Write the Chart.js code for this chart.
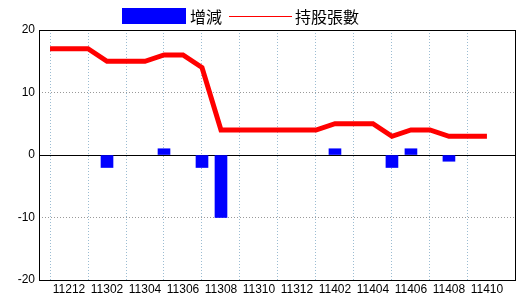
<!DOCTYPE html>
<html>
<head>
<meta charset="utf-8">
<script src="https://cdn.jsdelivr.net/npm/chart.js@4/dist/chart.umd.min.js"></script>
<style>
  body { margin: 0; background: #fff; }
  #wrap { position: relative; width: 520px; height: 300px; }
  #legend { position: absolute; top: 8px; left: 122px; display: flex; align-items: center; height: 16px;
            font-family: "Noto Sans CJK TC", sans-serif; font-size: 16px; line-height: 16px; color: #000; }
  #legend .box { width: 64px; height: 16px; background: #0000ff; margin-right: 4px; }
  #legend .line { width: 63px; height: 1px; background: #ff0000; margin: 0 3px 0 7px; }
</style>
</head>
<body>
<div id="wrap">
  <div id="legend">
    <span class="box"></span><span id="lg0"></span>
    <span class="line"></span><span id="lg1"></span>
  </div>
  <canvas id="chart" width="520" height="300"></canvas>
</div>
<script>
const months = ['11211', '11212', '11301', '11302', '11303', '11304', '11305', '11306',
  '11307', '11308', '11309', '11310', '11311', '11312', '11401', '11402',
  '11403', '11404', '11405', '11406', '11407', '11408', '11409', '11410']
const changes = [0, 0, 0, -2, 0, 0, 1, 0, -2, -10, 0, 0, 0, 0, 0, 1, 0, 0, -2, 1, 0, -1, 0, 0]
const holdings = [17, 17, 17, 15, 15, 15, 16, 16, 14, 4, 4, 4, 4, 4, 4, 5, 5, 5, 3, 4, 4, 3, 3, 3]
const yTicks = [20, 10, 0, -10, -20]
const seriesNames = ['增減', '持股張數']

document.getElementById('lg0').textContent = seriesNames[0]
document.getElementById('lg1').textContent = seriesNames[1]

// frame around the plot and the solid zero line
const framePlugin = {
  id: 'frame',
  beforeDatasetsDraw(chart) {
    const { ctx, chartArea: a, scales } = chart
    const y0 = Math.round(scales.y.getPixelForValue(0)) + 0.5
    ctx.save()
    ctx.strokeStyle = '#000'
    ctx.lineWidth = 1
    ctx.beginPath()
    ctx.moveTo(a.left, y0)
    ctx.lineTo(a.right, y0)
    ctx.stroke()
    ctx.strokeRect(Math.round(a.left) + 0.5, Math.round(a.top) + 0.5,
      Math.round(a.right - a.left) - 1, Math.round(a.bottom - a.top))
    ctx.restore()
  }
}

const tickFont = { family: '"Liberation Sans", sans-serif', size: 12 }

new Chart(document.getElementById('chart'), {
  data: {
    datasets: [
      {
        type: 'line',
        label: seriesNames[1],
        data: holdings.map((v, i) => ({ x: i, y: v })),
        borderColor: '#ff0000',
        borderWidth: 5,
        pointRadius: 0,
        tension: 0,
        order: 0
      },
      {
        type: 'bar',
        label: seriesNames[0],
        // months with no change get no bar at all
        data: changes.map((v, i) => ({ x: i, y: v === 0 ? null : v })),
        backgroundColor: '#0000ff',
        barThickness: 12,
        order: 1
      }
    ]
  },
  options: {
    responsive: false,
    animation: false,
    layout: { padding: { top: 30, right: 4, left: 0, bottom: 0 } },
    plugins: { legend: { display: false }, tooltip: { enabled: false } },
    scales: {
      x: {
        type: 'linear',
        offset: false,
        min: -0.58,
        max: 24.53,
        afterBuildTicks: axis => { axis.ticks = months.map((m, i) => ({ value: i })) },
        afterFit: axis => { axis.height = 20 },
        ticks: {
          autoSkip: false,
          maxRotation: 0,
          padding: 2,
          color: '#000',
          font: tickFont,
          callback: v => (v % 2 === 1 ? months[v] : '')
        },
        grid: {
          drawTicks: false,
          offset: false,
          color: c => (c.tick && c.tick.value % 2 === 0 ? '#9bbcd2' : 'rgba(0,0,0,0)'),
          lineWidth: 1
        },
        border: { display: false, dash: [1, 2] }
      },
      y: {
        min: -20,
        max: 20,
        afterBuildTicks: axis => { axis.ticks = yTicks.map(v => ({ value: v })) },
        afterFit: axis => { axis.width = 39 },
        ticks: { padding: 4, color: '#000', font: tickFont },
        grid: { drawTicks: false, color: '#999999', lineWidth: 1 },
        border: { display: false, dash: [1, 2] }
      }
    }
  },
  plugins: [framePlugin]
})
</script>
</body>
</html>
